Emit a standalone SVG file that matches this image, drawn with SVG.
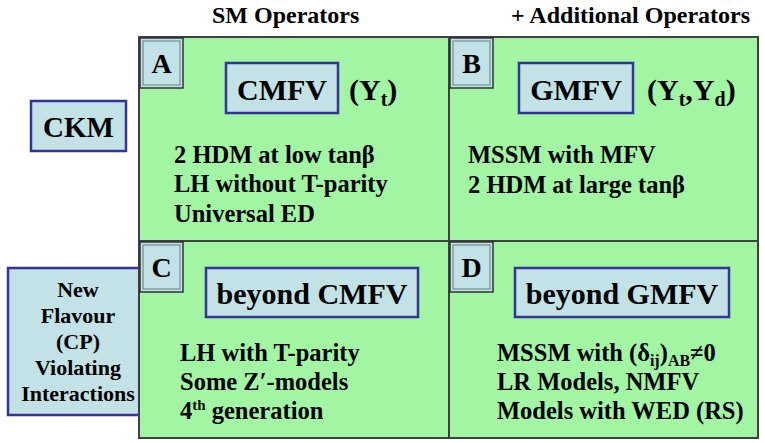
<svg xmlns="http://www.w3.org/2000/svg" width="765" height="443" viewBox="0 0 765 443">
<style>
.cell{fill:#a2f5a2;stroke:#404040;stroke-width:2}
.lbl{fill:#c2e2e6;stroke:#333;stroke-width:1.5}
.lbli{fill:none;stroke:#6f8f8f;stroke-width:1.2}
.tag{fill:#c2e2e6;stroke:#33339a;stroke-width:2.5}
</style>
<g id="headers">
<text x="212" y="23" font-family="Liberation Serif" font-weight="bold" font-size="24">SM Operators</text>
<text x="511" y="23" font-family="Liberation Serif" font-weight="bold" font-size="24">+ Additional Operators</text>
</g>
<g id="nfv">
<rect class="tag" x="8" y="268" width="140" height="147"/>
<text x="78" y="297" text-anchor="middle" font-family="Liberation Serif" font-weight="bold" font-size="22">New</text>
<text x="78" y="323" text-anchor="middle" font-family="Liberation Serif" font-weight="bold" font-size="22">Flavour</text>
<text x="78" y="349" text-anchor="middle" font-family="Liberation Serif" font-weight="bold" font-size="22">(CP)</text>
<text x="78" y="375" text-anchor="middle" font-family="Liberation Serif" font-weight="bold" font-size="22">Violating</text>
<text x="78" y="401" text-anchor="middle" font-family="Liberation Serif" font-weight="bold" font-size="22">Interactions</text>
</g>
<g id="ckm">
<rect class="tag" x="31" y="101" width="95" height="50"/>
<text x="78.5" y="137" text-anchor="middle" font-family="Liberation Serif" font-weight="bold" font-size="29">CKM</text>
</g>
<g id="cellA">
<rect class="cell" x="139" y="37" width="310" height="204"/>
<rect class="lbl" x="140" y="38" width="43" height="50"/>
<rect class="lbli" x="143" y="41" width="37" height="44"/>
<text x="161.5" y="73" text-anchor="middle" font-family="Liberation Serif" font-weight="bold" font-size="28">A</text>
<rect class="tag" x="226" y="63" width="112" height="50"/>
<text x="282" y="100" text-anchor="middle" font-family="Liberation Serif" font-weight="bold" font-size="30">CMFV</text>
<text x="349" y="100" font-family="Liberation Serif" font-weight="bold" font-size="30">(Y<tspan font-size="20" dy="6">t</tspan><tspan dy="-6">)</tspan></text>
<text x="174" y="163" font-family="Liberation Serif" font-weight="bold" font-size="24.5">2 HDM at low tanβ</text>
<text x="174" y="192" font-family="Liberation Serif" font-weight="bold" font-size="24.5">LH without T-parity</text>
<text x="174" y="222" font-family="Liberation Serif" font-weight="bold" font-size="24.5">Universal ED</text>
</g>
<g id="cellB">
<rect class="cell" x="449" y="37" width="309" height="204"/>
<rect class="lbl" x="450" y="38" width="43" height="50"/>
<rect class="lbli" x="453" y="41" width="37" height="44"/>
<text x="471.5" y="73" text-anchor="middle" font-family="Liberation Serif" font-weight="bold" font-size="28">B</text>
<rect class="tag" x="519" y="63" width="114" height="50"/>
<text x="576" y="100" text-anchor="middle" font-family="Liberation Serif" font-weight="bold" font-size="30">GMFV</text>
<text x="647" y="100" font-family="Liberation Serif" font-weight="bold" font-size="30">(Y<tspan font-size="20" dy="6">t</tspan><tspan dy="-6">,Y</tspan><tspan font-size="20" dy="6">d</tspan><tspan dy="-6">)</tspan></text>
<text x="468" y="163" font-family="Liberation Serif" font-weight="bold" font-size="24.5">MSSM with MFV</text>
<text x="468" y="193" font-family="Liberation Serif" font-weight="bold" font-size="24.5">2 HDM at large tanβ</text>
</g>
<g id="cellC">
<rect class="cell" x="139" y="241" width="310" height="197"/>
<rect class="lbl" x="140" y="242" width="43" height="50"/>
<rect class="lbli" x="143" y="245" width="37" height="44"/>
<text x="161.5" y="277" text-anchor="middle" font-family="Liberation Serif" font-weight="bold" font-size="28">C</text>
<rect class="tag" x="206" y="268" width="212" height="49"/>
<text x="312" y="304" text-anchor="middle" font-family="Liberation Serif" font-weight="bold" font-size="30">beyond CMFV</text>
<text x="180" y="361" font-family="Liberation Serif" font-weight="bold" font-size="24.5">LH with T-parity</text>
<text x="180" y="390" font-family="Liberation Serif" font-weight="bold" font-size="24.5">Some Z′-models</text>
<text x="180" y="419" font-family="Liberation Serif" font-weight="bold" font-size="24.5">4<tspan font-size="15" dy="-9">th</tspan><tspan dy="9"> generation</tspan></text>
</g>
<g id="cellD">
<rect class="cell" x="449" y="241" width="309" height="197"/>
<rect class="lbl" x="450" y="242" width="43" height="50"/>
<rect class="lbli" x="453" y="245" width="37" height="44"/>
<text x="471.5" y="277" text-anchor="middle" font-family="Liberation Serif" font-weight="bold" font-size="28">D</text>
<rect class="tag" x="515" y="268" width="214" height="49"/>
<text x="622" y="304" text-anchor="middle" font-family="Liberation Serif" font-weight="bold" font-size="30">beyond GMFV</text>
<text x="497" y="361" font-family="Liberation Serif" font-weight="bold" font-size="24.5">MSSM with (δ<tspan font-size="16" dy="5">ij</tspan><tspan dy="-5">)</tspan><tspan font-size="16" dy="5">AB</tspan><tspan dy="-5">≠0</tspan></text>
<text x="497" y="390" font-family="Liberation Serif" font-weight="bold" font-size="24.5">LR Models, NMFV</text>
<text x="497" y="419" font-family="Liberation Serif" font-weight="bold" font-size="24.5">Models with WED (RS)</text>
</g>
<g id="connectors"/>
</svg>
